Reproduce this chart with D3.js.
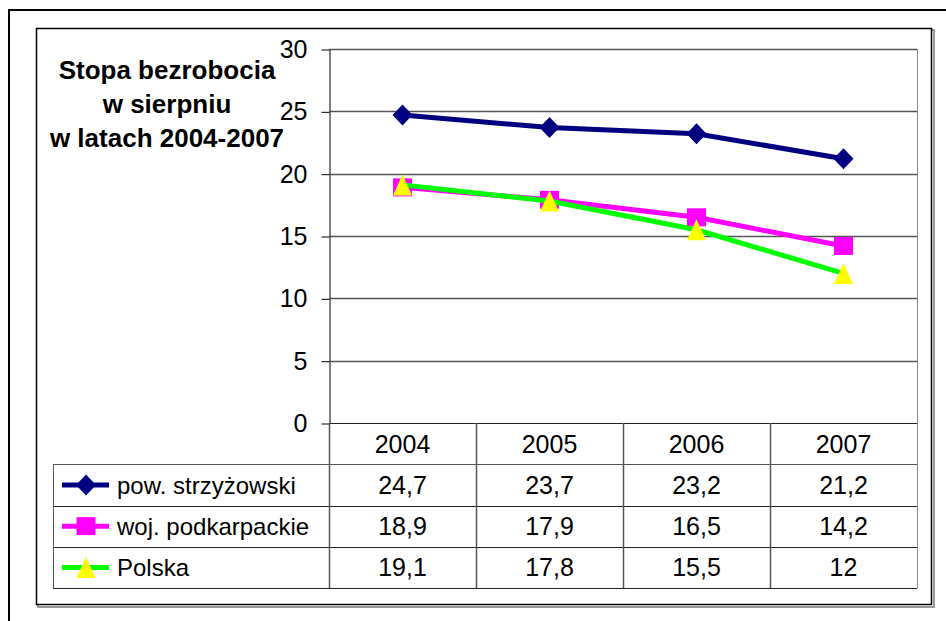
<!DOCTYPE html>
<html>
<head>
<meta charset="utf-8">
<script src="https://cdn.jsdelivr.net/npm/d3@7"></script>
<style>
  body { margin: 0; background: #fff; }
  text { font-family: "Liberation Sans", Arial, sans-serif; fill: #000; }
</style>
</head>
<body>
<div id="chart"></div>
<script>
/* Chart data */
var years = ["2004", "2005", "2006", "2007"];
var seriesNames = ["pow. strzyżowski", "woj. podkarpackie", "Polska"];
var strzyzowski = [24.7, 23.7, 23.2, 21.2];
var podkarpackie = [18.9, 17.9, 16.5, 14.2];
var polska = [19.1, 17.8, 15.5, 12];
var yTicks = [0, 5, 10, 15, 20, 25, 30];
var titleLines = ["Stopa bezrobocia", "w sierpniu", "w latach 2004-2007"];

var lineColors = ["#000080", "#FF00FF", "#00FF00"];
var markerColors = ["#000080", "#FF00FF", "#FFFF00"];

/* Marker shapes, centred on the data point */
var markerPaths = [
    "M0,-10.5L10,0L0,10.5L-10,0Z",
    "M-9.5,-9L9.5,-9L9.5,9L-9.5,9Z",
    "M0,-10.5L9.5,10.5L-9.5,10.5Z"
];

var series = seriesNames.map(function (name, i) {
    return { name: name, values: [strzyzowski, podkarpackie, polska][i], i: i };
});

var width = 946, height = 621;
var plotLeft = 329, plotRight = 917, plotTop = 49, plotBottom = 423;
var tableBottom = 588, legendLeft = 53;

var svg = d3.select("#chart").append("svg")
    .attr("width", width)
    .attr("height", height);

/* Outer border and inner chart frame */
svg.append("rect")
    .attr("x", 9).attr("y", 10)
    .attr("width", 1000).attr("height", 700)
    .attr("fill", "none").attr("stroke", "#000").attr("stroke-width", 2);

svg.append("rect")
    .attr("x", 38).attr("y", 30)
    .attr("width", 896).attr("height", 577)
    .attr("fill", "none").attr("stroke", "#999").attr("stroke-width", 2);
svg.append("rect")
    .attr("x", 36.5).attr("y", 28.5)
    .attr("width", 895).attr("height", 576)
    .attr("fill", "#fff").attr("stroke", "#000").attr("stroke-width", 1.5);

/* Scales */
var x = d3.scaleBand().domain(years).range([plotLeft, plotRight]);
var y = d3.scaleLinear().domain([0, 30]).range([plotBottom, plotTop]);

/* Gridlines */
svg.append("g").selectAll("line")
    .data(yTicks.filter(function (d) { return d > 0; }))
    .join("line")
    .attr("x1", plotLeft).attr("x2", plotRight)
    .attr("y1", function (d) { return Math.round(y(d)) + 0.5; })
    .attr("y2", function (d) { return Math.round(y(d)) + 0.5; })
    .attr("stroke", "#555").attr("stroke-width", 1.3);

/* Plot right edge */
svg.append("line")
    .attr("x1", plotRight + 0.5).attr("x2", plotRight + 0.5)
    .attr("y1", plotTop).attr("y2", tableBottom)
    .attr("stroke", "#888");

/* Y axis */
var yAxis = svg.append("g")
    .attr("transform", "translate(" + (plotLeft + 0.5) + ",0.5)")
    .call(d3.axisLeft(y).tickValues(yTicks).tickSize(8).tickSizeOuter(0).tickPadding(14));
yAxis.select(".domain").attr("stroke", "#555").attr("stroke-width", 1.5);
yAxis.selectAll(".tick line").attr("stroke", "#000");
yAxis.selectAll(".tick text")
    .style("font-family", "'Liberation Sans', Arial, sans-serif")
    .style("font-size", "25px")
    .attr("fill", "#000");

/* Title */
svg.append("text")
    .attr("x", 167).attr("y", 79)
    .attr("text-anchor", "middle")
    .style("font-size", "26px").style("font-weight", "bold")
    .selectAll("tspan")
    .data(titleLines)
    .join("tspan")
    .attr("x", 167)
    .attr("dy", function (d, i) { return i === 0 ? 0 : 34; })
    .text(function (d) { return d; });

/* Data table */
var rows = ["header"].concat(seriesNames);
var rowY = d3.scaleBand().domain(rows).range([plotBottom, tableBottom]);
var fmt = function (v) { return String(v).replace(".", ","); };

var table = svg.append("g");

/* horizontal rules */
table.selectAll("line.h")
    .data(rows.slice(1).concat(["end"]))
    .join("line")
    .attr("class", "h")
    .attr("x1", legendLeft)
    .attr("x2", plotRight)
    .attr("y1", function (d) { return Math.round(d === "end" ? tableBottom : rowY(d)) + 0.5; })
    .attr("y2", function (d) { return Math.round(d === "end" ? tableBottom : rowY(d)) + 0.5; })
    .attr("stroke", function (d, i) { return i === 0 ? "#555" : "#222"; });

table.append("line")
    .attr("x1", plotLeft).attr("x2", plotRight)
    .attr("y1", plotBottom + 0.5).attr("y2", plotBottom + 0.5)
    .attr("stroke", "#222");

/* vertical rules */
table.selectAll("line.v")
    .data(years)
    .join("line")
    .attr("class", "v")
    .attr("x1", function (d) { return x(d) + 0.5; })
    .attr("x2", function (d) { return x(d) + 0.5; })
    .attr("y1", plotBottom).attr("y2", tableBottom)
    .attr("stroke", "#555").attr("stroke-width", 1.5);

table.append("line")
    .attr("x1", legendLeft + 0.5).attr("x2", legendLeft + 0.5)
    .attr("y1", rowY(seriesNames[0])).attr("y2", tableBottom)
    .attr("stroke", "#555");

/* header years */
table.selectAll("text.year")
    .data(years)
    .join("text")
    .attr("class", "year")
    .attr("x", function (d) { return x(d) + x.bandwidth() / 2; })
    .attr("y", rowY("header") + rowY.bandwidth() / 2)
    .attr("dy", "0.36em")
    .attr("text-anchor", "middle")
    .style("font-size", "25px")
    .text(function (d) { return d; });

/* value cells and legend keys */
series.forEach(function (s) {
    var cy = rowY(s.name) + rowY.bandwidth() / 2;
    table.selectAll("text.v" + s.i)
        .data(s.values)
        .join("text")
        .attr("x", function (d, j) { return x(years[j]) + x.bandwidth() / 2; })
        .attr("y", cy)
        .attr("dy", "0.36em")
        .attr("text-anchor", "middle")
        .style("font-size", "25px")
        .text(fmt);

    table.append("line")
        .attr("x1", 62).attr("x2", 109)
        .attr("y1", cy).attr("y2", cy)
        .attr("stroke", lineColors[s.i]).attr("stroke-width", 5);
    table.append("path")
        .attr("transform", "translate(86," + cy + ")")
        .attr("d", markerPaths[s.i])
        .attr("fill", markerColors[s.i]);
    table.append("text")
        .attr("x", 117)
        .attr("y", cy)
        .attr("dy", "0.36em")
        .style("font-size", "24px")
        .text(s.name);
});

/* Lines and markers, drawn series by series */
var line = d3.line()
    .x(function (d, j) { return x(years[j]) + x.bandwidth() / 2; })
    .y(function (d) { return y(d); });

series.forEach(function (s) {
    var g = svg.append("g");
    g.append("path")
        .attr("d", line(s.values))
        .attr("fill", "none")
        .attr("stroke", lineColors[s.i])
        .attr("stroke-width", 5);
    g.selectAll("path.m")
        .data(s.values)
        .join("path")
        .attr("class", "m")
        .attr("transform", function (d, j) {
            return "translate(" + (x(years[j]) + x.bandwidth() / 2) + "," + y(d) + ")";
        })
        .attr("d", markerPaths[s.i])
        .attr("fill", markerColors[s.i]);
});
</script>
</body>
</html>
